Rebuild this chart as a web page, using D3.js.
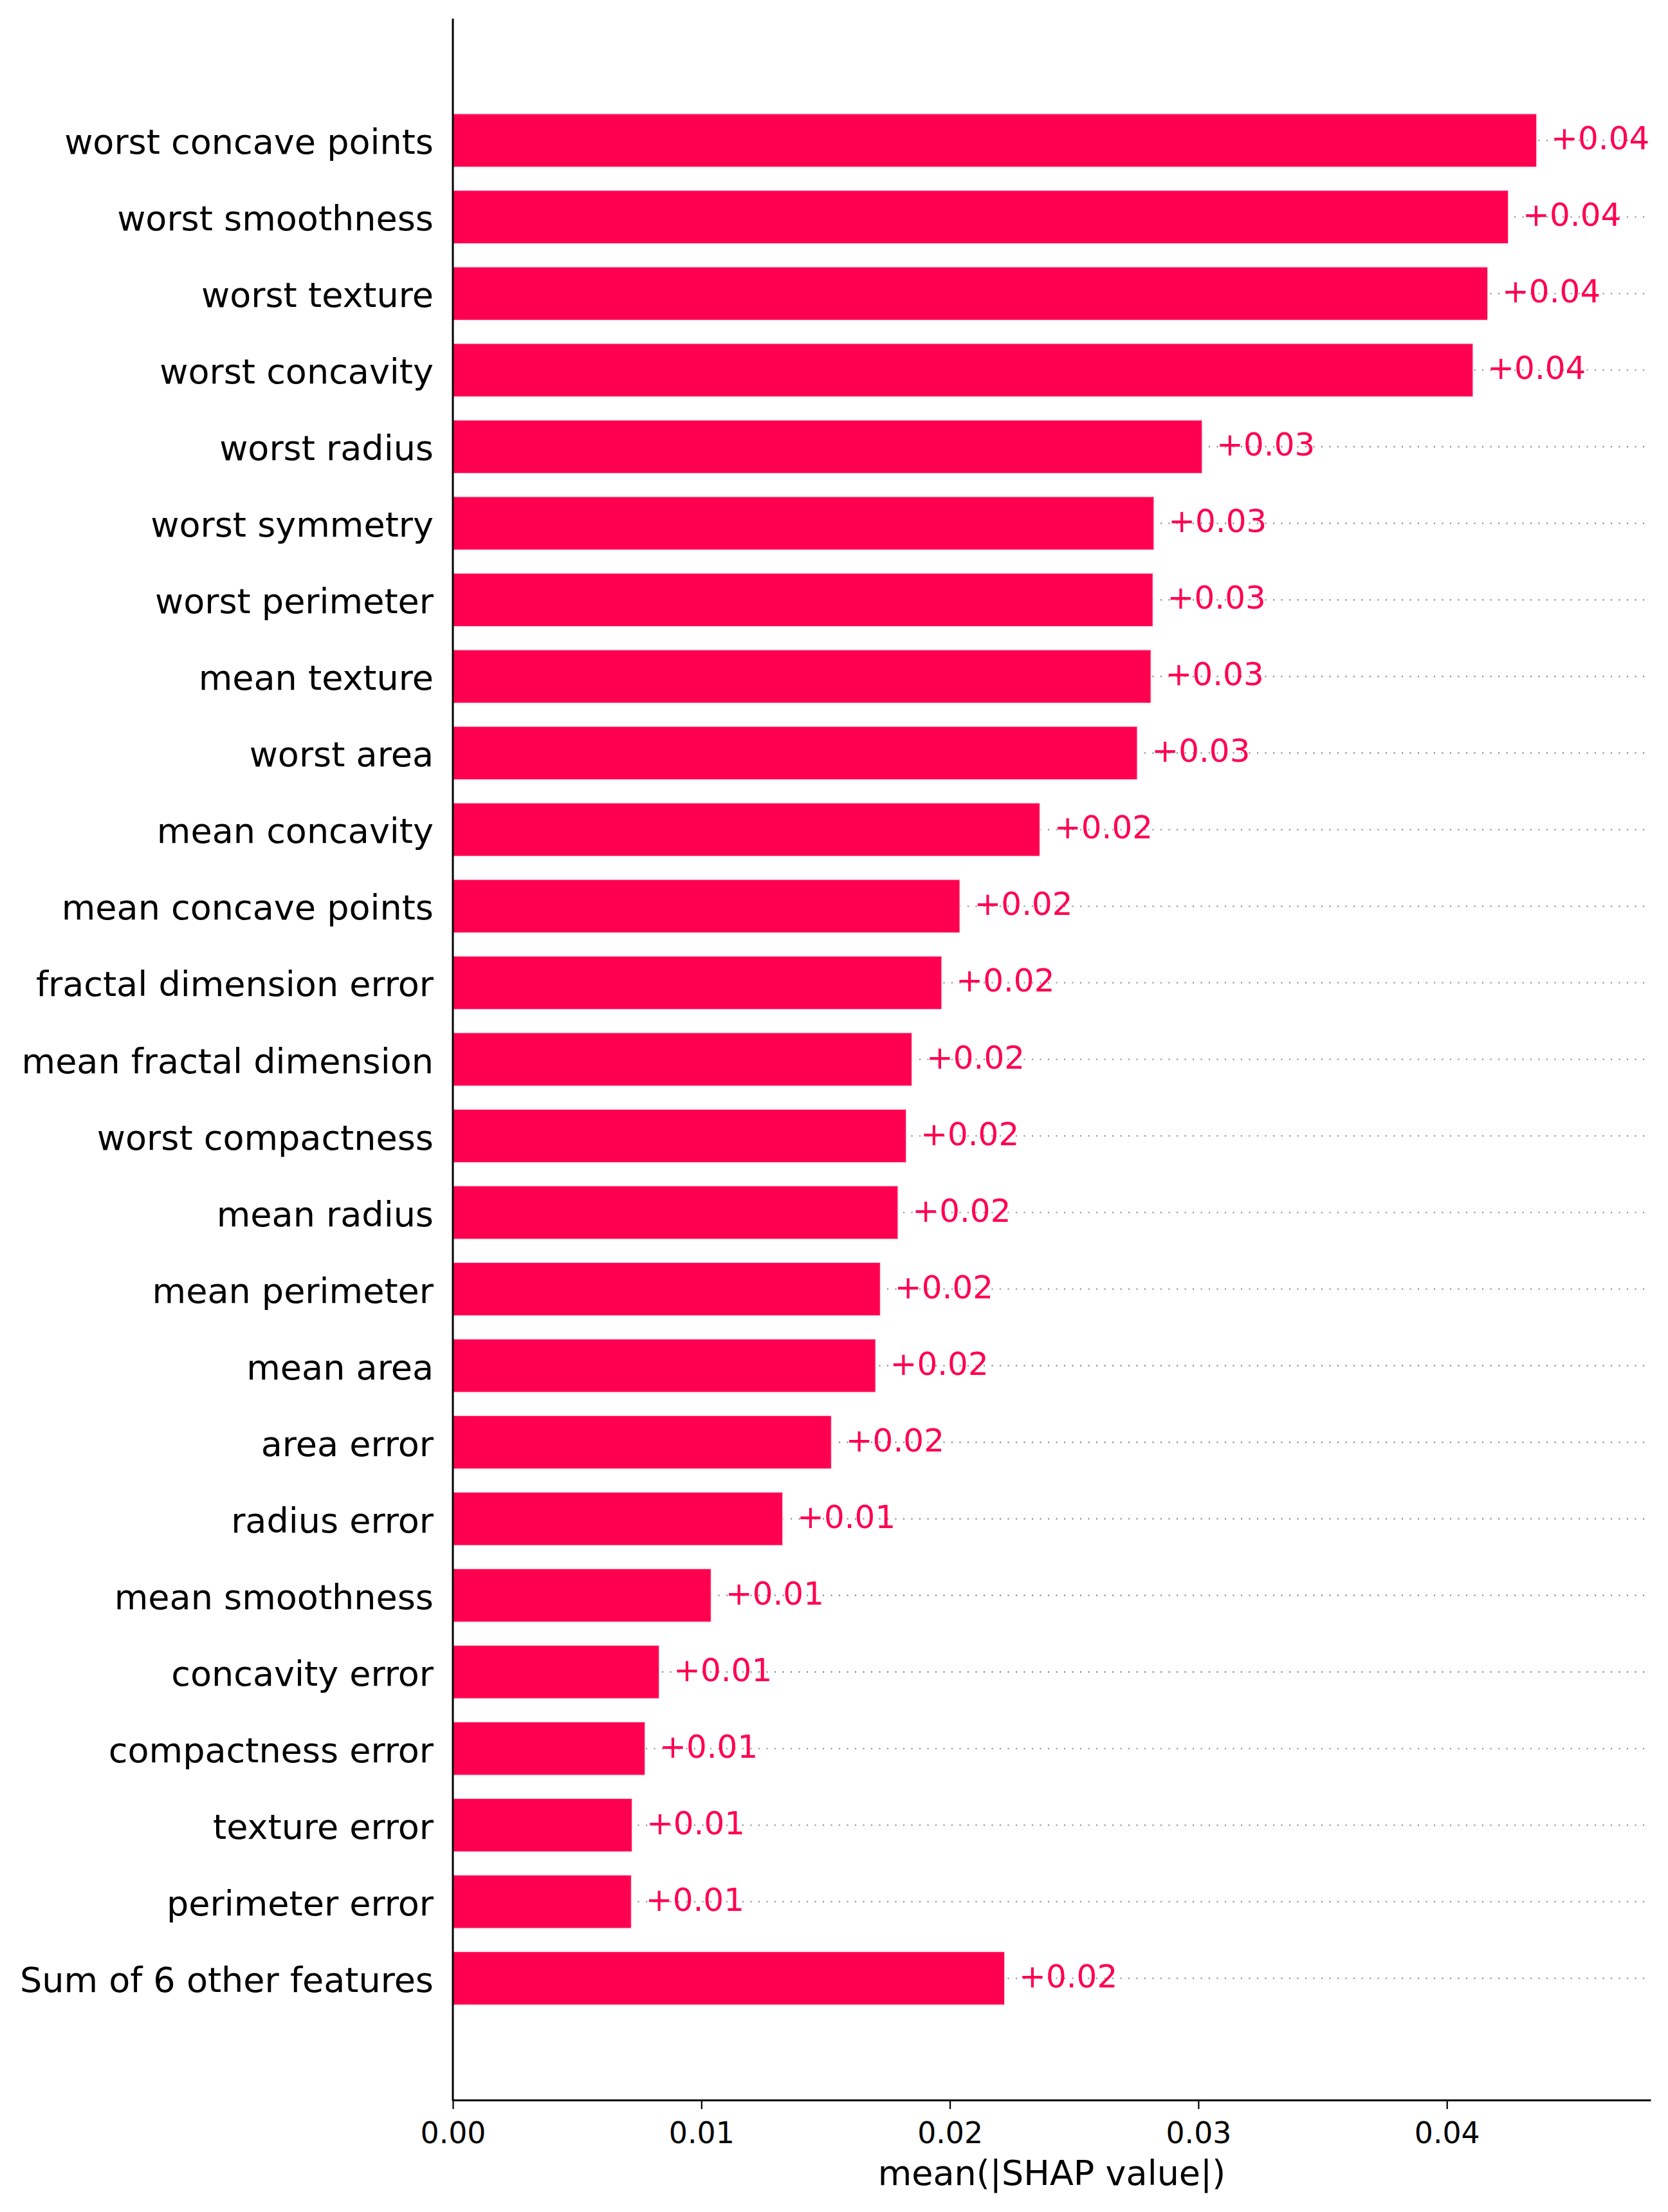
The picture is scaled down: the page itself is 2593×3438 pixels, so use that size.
<!DOCTYPE html>
<html>
<head>
<meta charset="utf-8">
<script src="https://cdn.jsdelivr.net/npm/d3@7"></script>
<style>
  html, body { margin: 0; padding: 0; background: #ffffff; }
  svg { display: block; }
  text { font-family: "DejaVu Sans", sans-serif; }
</style>
</head>
<body>
<svg id="chart" width="2593" height="3438"></svg>
<script>
const features = [
  "worst concave points", "worst smoothness", "worst texture", "worst concavity",
  "worst radius", "worst symmetry", "worst perimeter", "mean texture", "worst area",
  "mean concavity", "mean concave points", "fractal dimension error",
  "mean fractal dimension", "worst compactness", "mean radius", "mean perimeter",
  "mean area", "area error", "radius error", "mean smoothness", "concavity error",
  "compactness error", "texture error", "perimeter error", "Sum of 6 other features"
];
const meanAbsShap = [
  0.04362, 0.04248, 0.04165, 0.04106,
  0.03016, 0.02822, 0.02818, 0.02810, 0.02755,
  0.02363, 0.02041, 0.01968,
  0.01848, 0.01825, 0.01792, 0.01721,
  0.01702, 0.01524, 0.01328, 0.01040, 0.00831,
  0.00774, 0.00722, 0.00719, 0.02221
];
const xTicks = [0.00, 0.01, 0.02, 0.03, 0.04];
const xTickLabels = ["0.00", "0.01", "0.02", "0.03", "0.04"];
const xAxisTitle = "mean(|SHAP value|)";

(function () {
const RED = "#ff0051";
const svg = d3.select("#chart");
svg.append("rect").attr("width", 2593).attr("height", 3438).attr("fill", "#fff");

const pLeft = 704, pRight = 2566, pTop = 29, pBottom = 3264;
const n = features.length;
const x = d3.scaleLinear().domain([0, 0.0482]).range([pLeft, pRight]);
const y = d3.scaleLinear().domain([-1.59, n - 1 + 1.59]).range([pTop, pBottom]);
const rowH = y(1) - y(0);
const barH = rowH * 0.7;

// dotted guide lines
svg.append("g").selectAll("line").data(features).join("line")
  .attr("x1", pLeft).attr("x2", pRight)
  .attr("y1", (d, i) => y(i)).attr("y2", (d, i) => y(i))
  .attr("stroke", "#888888").attr("stroke-width", 2.1)
  .attr("stroke-dasharray", "2.1 10.4");

// bars
svg.append("g").selectAll("rect").data(meanAbsShap).join("rect")
  .attr("x", x(0))
  .attr("y", (d, i) => y(i) - barH / 2)
  .attr("width", d => x(d) - x(0))
  .attr("height", barH)
  .attr("fill", RED)
  .attr("stroke", "rgba(255,255,255,0.75)")
  .attr("stroke-width", 2);

// value labels
const fmt = d3.format(".2f");
svg.append("g").selectAll("text").data(meanAbsShap).join("text")
  .attr("x", d => x(d) + 22)
  .attr("y", (d, i) => y(i) + 14)
  .attr("fill", RED)
  .attr("font-size", 50)
  .text(d => "+" + fmt(d));

// feature labels
svg.append("g").selectAll("text").data(features).join("text")
  .attr("x", pLeft - 30)
  .attr("y", (d, i) => y(i) + 21)
  .attr("text-anchor", "end")
  .attr("fill", "#000")
  .attr("font-size", 54)
  .text(d => d);

// x axis
const xAxis = d3.axisBottom(x)
  .tickValues(xTicks)
  .tickFormat((d, i) => xTickLabels[i])
  .tickSize(14)
  .tickPadding(20)
  .tickSizeOuter(0);
const gx = svg.append("g").attr("transform", `translate(0,${pBottom})`).call(xAxis);
gx.select(".domain").attr("stroke", "#000").attr("stroke-width", 3);
gx.selectAll(".tick line").attr("stroke", "#000").attr("stroke-width", 2.2);
gx.selectAll(".tick text")
  .attr("font-family", "DejaVu Sans, sans-serif")
  .attr("font-size", 45.8)
  .attr("fill", "#000");

// left spine
svg.append("line")
  .attr("x1", pLeft).attr("x2", pLeft)
  .attr("y1", pTop).attr("y2", pBottom + 1.5)
  .attr("stroke", "#000").attr("stroke-width", 3);

// x axis title
svg.append("text")
  .attr("x", (pLeft + pRight) / 2)
  .attr("y", 3396)
  .attr("text-anchor", "middle")
  .attr("font-size", 54)
  .attr("fill", "#000")
  .text(xAxisTitle);
})();
</script>
</body>
</html>
